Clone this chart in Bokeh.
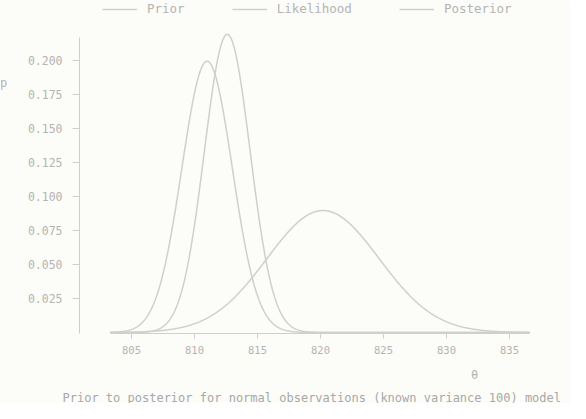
import numpy as np
from bokeh.plotting import figure
from bokeh.models import (Range1d, FixedTicker, PrintfTickFormatter, Legend,
                          LegendItem, Label, LinearAxis)
from bokeh.embed import file_html
from bokeh.resources import INLINE

# ---- data ----
curve_names = ["Prior", "Likelihood", "Posterior"]
curve_means = [811.0, 820.2, 812.6]
curve_sds = [2.0, 4.45, 1.82]
x_ticks = [805, 810, 815, 820, 825, 830, 835]
y_ticks = [0.025, 0.050, 0.075, 0.100, 0.125, 0.150, 0.175, 0.200]
x_lo, x_hi = 803.3, 836.6
y_axis_top = 0.2169
title_text = "Prior to posterior for normal observations (known variance 100) model"

BG = "#fcfcf8"
LINE = "#cfcfcf"
TXT = "#b4b4b4"
MONO = "DejaVu Sans Mono"

p = figure(width=570, height=403, output_backend="svg", toolbar_location=None,
           x_range=Range1d(794.603, 839.84), y_range=Range1d(-0.0522, 0.2441),
           x_axis_location=None, y_axis_location=None,
           min_border=0)
p.background_fill_color = BG
p.border_fill_color = BG
p.outline_line_color = None
p.grid.visible = False

xs = np.linspace(x_lo, x_hi, 600)
renderers = []
for name, m, s in zip(curve_names, curve_means, curve_sds):
    ys = np.exp(-0.5 * ((xs - m) / s) ** 2) / (s * np.sqrt(2 * np.pi))
    r = p.line(xs, ys, line_color=LINE, line_width=1.5)
    renderers.append((name, r))

xaxis = LinearAxis(ticker=FixedTicker(ticks=x_ticks), fixed_location=-0.000735,
                   bounds=(x_lo, x_hi))
yaxis = LinearAxis(ticker=FixedTicker(ticks=y_ticks), fixed_location=800.873,
                   formatter=PrintfTickFormatter(format="%.3f"),
                   bounds=(-0.000735, y_axis_top))
for ax in (xaxis, yaxis):
    ax.axis_line_color = LINE
    ax.major_tick_line_color = LINE
    ax.minor_tick_line_color = None
    ax.major_tick_in = 0
    ax.major_label_text_color = TXT
    ax.major_label_text_font = MONO
xaxis.major_tick_out = 5
xaxis.major_label_standoff = 7
xaxis.major_label_text_font_size = "10.5px"
yaxis.major_tick_out = 7
yaxis.major_label_standoff = 10
yaxis.major_label_text_font_size = "11.5px"
p.add_layout(xaxis, "below")
p.add_layout(yaxis, "left")

legend = Legend(items=[LegendItem(label=n, renderers=[r]) for n, r in renderers],
                orientation="horizontal", location=(102, 387),
                background_fill_alpha=0, border_line_color=None,
                padding=0, margin=0, spacing=47, glyph_width=35, glyph_height=14,
                label_standoff=10, label_text_font=MONO, label_height=14,
                label_text_font_size="12.5px", label_text_color=TXT)
p.add_layout(legend, "center")

p.add_layout(Label(x=3, y=321, x_units="screen", y_units="screen", text="p",
                   text_align="center", text_baseline="middle",
                   text_font=MONO, text_font_size="12px", text_color=TXT))
p.add_layout(Label(x=474, y=29, x_units="screen", y_units="screen", text="θ",
                   text_align="center", text_baseline="middle",
                   text_font=MONO, text_font_size="12px", text_color=TXT))
p.add_layout(Label(x=62, y=6, x_units="screen", y_units="screen", text=title_text,
                   text_baseline="alphabetic",
                   text_font=MONO, text_font_size="12px", text_color="#a8a8a8"))

open("out.html", "w").write(file_html(p, INLINE))
